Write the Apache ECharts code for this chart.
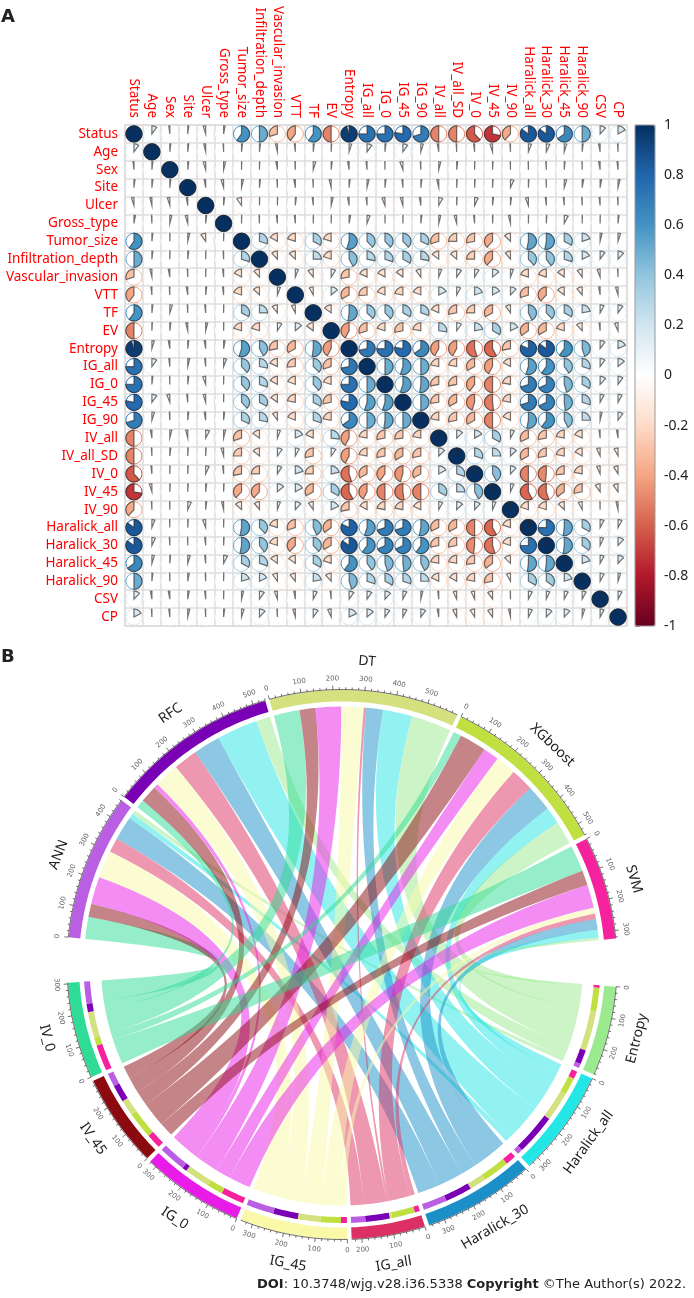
<!DOCTYPE html>
<html>
    <head>
        <title>corrplot_chord</title>
        <script src="https://cdnjs.cloudflare.com/ajax/libs/echarts/6.0.0/echarts.min.js"></script>
        <style>
            html, body { margin: 0; padding: 0; background: #fff; }
        </style>
    </head>
    <body>
        <div id="main" style="width: 694px; height: 1298px;"></div>
        <script>
            // panel A
            var varNames = ['Status', 'Age', 'Sex', 'Site', 'Ulcer', 'Gross_type', 'Tumor_size', 'Infiltration_depth',
                'Vascular_invasion', 'VTT', 'TF', 'EV', 'Entropy', 'IG_all', 'IG_0', 'IG_45', 'IG_90', 'IV_all',
                'IV_all_SD', 'IV_0', 'IV_45', 'IV_90', 'Haralick_all', 'Haralick_30', 'Haralick_45', 'Haralick_90', 'CSV', 'CP'];
            // upper triangle, each row starts just right of the diagonal
            var corrUpper = [
                [.1, -.02, .02, -.05, .03, .6, .5, -.3, -.4, .6, -.5, .95, .75, .75, .78, .7, -.5, -.5, -.62, -.72, -.38, .85, .85, .65, .5, .12, .17],
                [.02, .02, -.04, -.01, .02, .02, -.04, -.02, .02, .01, .05, .1, .02, .1, .05, -.03, -.01, -.02, -.05, -.01, .06, .07, .05, .02, -.03, -.01],
                [.02, -.05, .04, .005, .005, -.03, -.01, .05, .02, -.03, -.02, -.005, -.06, -.01, .04, .02, .005, .01, -.005, -.005, -.01, .015, -.005, -.03, -.02],
                [-.03, -.05, .04, .02, -.01, -.03, -.01, -.04, .02, .04, .02, -.02, .02, -.04, .01, .01, .01, .07, .01, -.005, .05, .03, .03, .04],
                [.02, -.1, .005, .005, .02, -.02, .04, -.03, -.02, -.06, -.05, -.03, .08, .01, .07, .02, .02, -.06, -.02, -.02, -.01, -.02, -.01],
                [.005, -.01, -.02, -.02, .005, .005, .03, .06, .005, .005, .02, .04, -.05, -.02, .01, -.04, .005, .01, .08, .005, .005, .02],
                [.3, -.17, -.2, .33, -.2, .55, .38, .38, .38, .32, -.3, -.25, -.28, -.38, -.13, .53, .53, .33, .2, .04, .05],
                [-.12, -.13, .25, -.2, .42, .28, .3, .33, .28, -.15, -.14, -.25, -.38, -.11, .38, .4, .3, .18, .1, .12],
                [.06, -.11, .09, -.28, -.18, -.17, -.15, -.1, .06, .1, .09, .14, .06, -.2, -.2, -.15, -.1, -.06, -.01],
                [-.08, .14, -.33, -.26, -.19, -.22, -.19, .18, .08, .2, .17, .12, -.3, -.38, -.15, -.11, -.03, -.05],
                [-.15, .52, .37, .38, .33, .3, -.18, -.28, -.25, -.33, -.1, .43, .38, .33, .22, .08, .1],
                [-.42, -.3, -.2, -.28, -.22, .27, .1, .22, .33, .18, -.35, -.33, -.2, -.12, -.02, -.07],
                [.72, .75, .78, .65, -.42, -.42, -.55, -.58, -.28, .82, .85, .6, .45, .1, .18],
                [.5, .55, .5, -.22, -.22, -.33, -.42, -.17, .55, .6, .4, .3, .1, .14],
                [.55, .52, -.28, -.28, -.4, -.5, -.22, .7, .68, .45, .33, .12, .1],
                [.5, -.27, -.33, -.45, -.52, -.22, .7, .68, .48, .3, .08, .08],
                [-.22, -.28, -.33, -.5, -.18, .53, .6, .42, .25, .04, .1],
                [.13, .17, .33, .08, -.32, -.28, -.22, -.18, -.02, -.03],
                [.3, .25, .13, -.33, -.28, -.22, -.17, -.07, -.08],
                [.42, .12, -.5, -.48, -.27, -.22, -.07, -.09],
                [.07, -.58, -.55, -.35, -.28, -.1, -.1],
                [-.2, -.2, -.13, -.08, -.005, -.04],
                [.75, .52, .33, .08, .08],
                [.52, .35, .07, .12],
                [.2, .08, .12],
                [.08, .05],
                [.08]
            ];
            var corrColors = ['#67001F', '#B2182B', '#D6604D', '#F4A582', '#FDDBC7', '#FFFFFF', '#D1E5F0', '#92C5DE', '#4393C3', '#2166AC', '#053061'];

            // panel B
            var topNames = ['ANN', 'RFC', 'DT', 'XGboost', 'SVM'];
            var topColors = ['#BA5FE3', '#7A00B5', '#D5E07E', '#BFE040', '#F5219D'];
            var bottomNames = ['IV_0', 'IV_45', 'IG_0', 'IG_45', 'IG_all', 'Haralick_30', 'Haralick_all', 'Entropy'];
            var bottomColors = ['#2EDC95', '#8B0A0F', '#E81BE8', '#F9F9A8', '#DC2F63', '#1A8FC8', '#25E6E6', '#9BEA8F'];
            var annFlows = [74, 44, 92, 92, 48, 80, 18, 14];
            var rfcFlows = [28, 58, 15, 83, 81, 90, 137, 48];
            var dtFlows = [87, 53, 86, 75, 8, 56, 99, 134];
            var xgFlows = [27, 90, 53, 69, 77, 89, 57, 78];
            var svmFlows = [88, 50, 78, 20, 18, 36, 26, 9];
            var flowRows = [annFlows, rfcFlows, dtFlows, xgFlows, svmFlows];

            var corrData = [];
            varNames.forEach(function (name, i) {
                corrData.push([i, i, 1]);
                corrUpper[i] && corrUpper[i].forEach(function (v, k) {
                    corrData.push([i + k + 1, i, v]);
                    corrData.push([i, i + k + 1, v]);
                });
            });

            function render_pie(params, api) {
                var c = api.coord([api.value(0), api.value(1)]);
                var s = api.size([1, 1]);
                var r = Math.min(s[0], s[1]) * 0.45;
                var v = api.value(2);
                var color = api.visual('color');
                var children = [{
                    type: 'circle',
                    shape: {cx: c[0], cy: c[1], r: r},
                    style: {fill: 'none', stroke: color, lineWidth: 1}
                }];
                var pts = [[c[0], c[1]]];
                var n = Math.max(2, Math.ceil(Math.abs(v) * 48));
                for (var i = 0; i <= n; i++) {
                    var a = 2 * Math.PI * v * i / n;
                    pts.push([c[0] + r * Math.sin(a), c[1] - r * Math.cos(a)]);
                }
                children.push({
                    type: 'polygon',
                    shape: {points: pts},
                    style: {fill: color, stroke: 'rgba(40,40,40,0.65)', lineWidth: 1.2}
                });
                return {type: 'group', children: children};
            }

            // chord layout, angles clockwise from 12 o'clock
            var DEG_PER_UNIT = 0.06705, SMALL_GAP = 0.9, BIG_GAP = 10.05;
            var R_OUT = 275, R_IN = 263, R_BAND_OUT = 258.5, R_BAND_IN = 252.5, R_TOP_LINK = 258, R_BOTTOM_LINK = 241;

            var topTotals = flowRows.map(function (row) {
                return row.reduce(function (a, b) { return a + b; }, 0);
            });
            var bottomTotals = bottomNames.map(function (n, j) {
                return flowRows.reduce(function (a, row) { return a + row[j]; }, 0);
            });
            var sectors = [];
            var angle = 360 - 84.3;
            topNames.forEach(function (n, i) {
                sectors.push({name: n, color: topColors[i], total: topTotals[i], start: angle});
                angle += topTotals[i] * DEG_PER_UNIT + SMALL_GAP;
            });
            angle += BIG_GAP - SMALL_GAP;
            var bottomStart = {};
            for (var j = bottomNames.length - 1; j >= 0; j--) {
                bottomStart[j] = angle;
                sectors.push({name: bottomNames[j], color: bottomColors[j], total: bottomTotals[j], start: angle});
                angle += bottomTotals[j] * DEG_PER_UNIT + SMALL_GAP;
            }

            // ribbons and the inner band of the lower sectors
            var links = [], bands = [];
            var bottomCursor = {};
            for (var jj = 0; jj < bottomNames.length; jj++) bottomCursor[jj] = bottomStart[jj];
            for (var t = topNames.length - 1; t >= 0; t--) {
                flowRows[t].forEach(function (v, b) {
                    bands.push({top: t, b0: bottomCursor[b], b1: bottomCursor[b] + v * DEG_PER_UNIT});
                    bottomCursor[b] += v * DEG_PER_UNIT;
                });
            }
            flowRows.forEach(function (row, t) {
                var a = sectors[t].start;
                row.forEach(function (v, b) {
                    var band = bands.filter(function (x) { return x.top === t; })[b];
                    links.push({color: bottomColors[b], a0: a, a1: a + v * DEG_PER_UNIT, b0: band.b0, b1: band.b1});
                    a += v * DEG_PER_UNIT;
                });
            });

            function arc(api, r, a0, a1) {
                var pts = [];
                var n = Math.max(1, Math.ceil(Math.abs(a1 - a0)));
                for (var i = 0; i <= n; i++) {
                    pts.push(api.coord([r, a0 + (a1 - a0) * i / n]));
                }
                return pts;
            }
            function bezier_to_center(api, p, q) {
                var c = api.coord([0, 0]);
                var pts = [];
                for (var i = 1; i < 30; i++) {
                    var u = i / 30, w = 1 - u;
                    pts.push([w * w * p[0] + 2 * w * u * c[0] + u * u * q[0], w * w * p[1] + 2 * w * u * c[1] + u * u * q[1]]);
                }
                return pts;
            }
            function render_link(params, api) {
                var l = links[params.dataIndex];
                var top = arc(api, R_TOP_LINK, l.a0, l.a1);
                var bot = arc(api, R_BOTTOM_LINK, l.b0, l.b1);
                var pts = top.concat(bezier_to_center(api, top[top.length - 1], bot[0]), bot,
                    bezier_to_center(api, bot[bot.length - 1], top[0]));
                return {
                    type: 'polygon',
                    shape: {points: pts},
                    style: {fill: l.color, opacity: 0.5}
                };
            }
            function render_band(params, api) {
                var b = bands[params.dataIndex];
                return {
                    type: 'polygon',
                    shape: {points: arc(api, R_BAND_OUT, b.b0, b.b1).concat(arc(api, R_BAND_IN, b.b1, b.b0))},
                    style: {fill: topColors[b.top]}
                };
            }
            function radial_text(api, r, a, text, font, fill) {
                var p = api.coord([r, a]);
                var norm = (a + 360) % 360;
                var rot = (norm > 90 && norm < 270) ? norm - 180 : norm;
                return {
                    type: 'text',
                    x: p[0],
                    y: p[1],
                    rotation: -rot * Math.PI / 180,
                    style: {text: text, font: font, fill: fill, textAlign: 'center', textVerticalAlign: 'middle'}
                };
            }
            function render_sector(params, api) {
                var s = sectors[params.dataIndex];
                var end = s.start + s.total * DEG_PER_UNIT;
                var children = [{
                    type: 'polygon',
                    shape: {points: arc(api, R_OUT - 0.5, s.start, end).concat(arc(api, R_IN, end, s.start))},
                    style: {fill: s.color}
                }, {
                    type: 'polyline',
                    shape: {points: arc(api, R_OUT, s.start, end)},
                    style: {fill: 'none', stroke: '#333', lineWidth: 0.7}
                }];
                for (var u = 0; u <= s.total; u += 20) {
                    var a = s.start + u * DEG_PER_UNIT;
                    var major = u % 100 === 0;
                    var p0 = api.coord([R_OUT, a]), p1 = api.coord([R_OUT + (major ? 4 : 2.2), a]);
                    children.push({
                        type: 'line',
                        shape: {x1: p0[0], y1: p0[1], x2: p1[0], y2: p1[1]},
                        style: {stroke: '#333', lineWidth: 0.7}
                    });
                    if (major) {
                        children.push(radial_text(api, R_OUT + 11, a, String(u), '7px "DejaVu Sans"', '#666'));
                    }
                }
                children.push(radial_text(api, R_OUT + 29, (s.start + end) / 2, s.name, '14px "Noto Sans"', '#222'));
                return {type: 'group', children: children};
            }

            var LABEL_FONT = 'Noto Sans';
            var FOOT_FONT = 'DejaVu Sans';
            var option = {
                animation: false,
                backgroundColor: '#fff',
                title: [
                    {text: 'A', left: 1, top: 8, textStyle: {fontSize: 18, fontWeight: 'bold', color: '#222', fontFamily: FOOT_FONT}, padding: 0},
                    {text: 'B', left: 1, top: 648, textStyle: {fontSize: 18, fontWeight: 'bold', color: '#222', fontFamily: FOOT_FONT}, padding: 0},
                    {
                        text: '{b|DOI}: 10.3748/wjg.v28.i36.5338 {b|Copyright} ©The Author(s) 2022.',
                        left: 257, top: 1278, padding: 0,
                        textStyle: {
                            fontSize: 13, fontWeight: 'normal', color: '#222', fontFamily: FOOT_FONT,
                            rich: {b: {fontSize: 13, fontWeight: 'bold', color: '#222', fontFamily: FOOT_FONT}}
                        }
                    }
                ],
                grid: [
                    {left: 125, top: 125, width: 502, height: 501, show: true, borderColor: '#dcdcdc', borderWidth: 1.5},
                    {left: 635, top: 125, width: 20, height: 501, z: 10, show: true, backgroundColor: 'transparent', borderColor: '#999', borderWidth: 1}
                ],
                xAxis: [
                    {
                        type: 'category', gridIndex: 0, position: 'top', data: varNames,
                        axisLine: {show: false}, axisTick: {show: false},
                        axisLabel: {interval: 0, rotate: 90, color: '#f00', fontSize: 13.5, margin: 7, fontFamily: LABEL_FONT},
                        splitLine: {show: true, interval: 0, lineStyle: {color: '#dcdcdc', width: 1.5}}
                    },
                    {type: 'value', gridIndex: 1, min: 0, max: 1, show: false}
                ],
                yAxis: [
                    {
                        type: 'category', gridIndex: 0, inverse: true, data: varNames,
                        axisLine: {show: false}, axisTick: {show: false},
                        axisLabel: {interval: 0, color: '#f00', fontSize: 13.5, margin: 7, fontFamily: LABEL_FONT},
                        splitLine: {show: true, interval: 0, lineStyle: {color: '#dcdcdc', width: 1.5}}
                    },
                    {
                        type: 'value', gridIndex: 1, position: 'right', min: -1, max: 1, interval: 0.2,
                        axisLine: {show: true, lineStyle: {color: '#888'}},
                        axisTick: {show: true, length: 5, lineStyle: {color: '#888'}},
                        axisLabel: {color: '#222', fontSize: 14, margin: 9, fontFamily: LABEL_FONT, padding: [2, 0, 0, 0]},
                        splitLine: {show: false}
                    }
                ],
                polar: {center: [342, 964.5], radius: [0, 330]},
                angleAxis: {show: false, type: 'value', min: 0, max: 360, startAngle: 90, clockwise: true},
                radiusAxis: {show: false, type: 'value', min: 0, max: 330},
                visualMap: {
                    type: 'continuous', seriesIndex: 0, dimension: 2, min: -1, max: 1,
                    left: 635, top: 125, itemWidth: 20, itemHeight: 501, padding: 0,
                    calculable: false, realtime: false, text: null, showLabel: false,
                    hoverLink: false,
                    inRange: {color: corrColors}
                },
                series: [
                    {
                        type: 'custom', coordinateSystem: 'cartesian2d', xAxisIndex: 0, yAxisIndex: 0,
                        silent: true, data: corrData, renderItem: render_pie,
                        encode: {x: 0, y: 1}
                    },
                    {
                        type: 'custom', coordinateSystem: 'polar', silent: true,
                        data: links.map(function (l, i) { return [i, l.a0]; }), renderItem: render_link
                    },
                    {
                        type: 'custom', coordinateSystem: 'polar', silent: true,
                        data: bands.map(function (b, i) { return [i, b.b0]; }), renderItem: render_band
                    },
                    {
                        type: 'custom', coordinateSystem: 'polar', silent: true,
                        data: sectors.map(function (s, i) { return [i, s.start]; }), renderItem: render_sector
                    }
                ]
            };
            var myChart = echarts.init(document.getElementById('main'));
            myChart.setOption(option);
        </script>
    </body>
</html>
